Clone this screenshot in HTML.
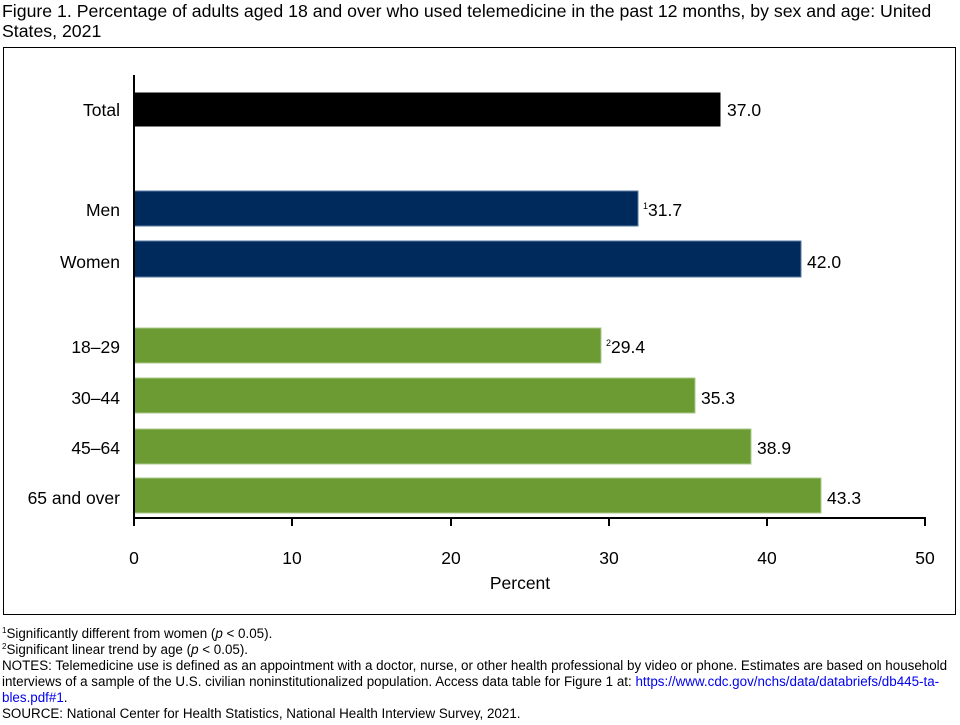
<!DOCTYPE html>
<html><head><meta charset="utf-8"><style>
body{margin:0;background:#fff;width:960px;height:720px;overflow:hidden;font-family:"Liberation Sans",Arial,sans-serif;}
</style></head><body>
<svg width="960" height="720" xmlns="http://www.w3.org/2000/svg" font-family="Liberation Sans, Arial, sans-serif">
<text x="2" y="17" font-size="17.7" fill="#000">Figure 1. Percentage of adults aged 18 and over who used telemedicine in the past 12 months, by sex and age: United</text>
<text x="2" y="37" font-size="17.7" fill="#000">States, 2021</text>
<rect x="3.5" y="47.5" width="952" height="567" fill="none" stroke="#000" stroke-width="1"/>
<g stroke="#fff" stroke-width="1">
<rect x="134" y="92" width="587" height="35" fill="#000"/>
<rect x="134" y="191" width="504" height="35" fill="#002a5c" stroke="#5a7aa0"/>
<rect x="134" y="241" width="667" height="36" fill="#002a5c" stroke="#5a7aa0"/>
<rect x="134" y="328" width="467" height="35" fill="#6b9b32" stroke="#a9c98a"/>
<rect x="134" y="378" width="561" height="35" fill="#6b9b32" stroke="#a9c98a"/>
<rect x="134" y="429" width="617" height="35" fill="#6b9b32" stroke="#a9c98a"/>
<rect x="134" y="478" width="687" height="35" fill="#6b9b32" stroke="#a9c98a"/>
</g>
<g stroke="#000" stroke-width="2">
<line x1="134" y1="75" x2="134" y2="526"/>
<line x1="133" y1="518" x2="926" y2="518"/>
<line x1="292" y1="518" x2="292" y2="526"/>
<line x1="451" y1="518" x2="451" y2="526"/>
<line x1="609" y1="518" x2="609" y2="526"/>
<line x1="767" y1="518" x2="767" y2="526"/>
<line x1="925" y1="518" x2="925" y2="526"/>
</g>
<g font-size="17.5" fill="#000" text-anchor="end">
<text x="120" y="116">Total</text>
<text x="120" y="216">Men</text>
<text x="120" y="268">Women</text>
<text x="120" y="353">18–29</text>
<text x="120" y="404">30–44</text>
<text x="120" y="454">45–64</text>
<text x="120" y="504">65 and over</text>
</g>
<g font-size="17.5" fill="#000">
<text x="727" y="116">37.0</text>
<text x="643" y="216"><tspan font-size="9" dy="-7">1</tspan><tspan dy="7">31.7</tspan></text>
<text x="807" y="268">42.0</text>
<text x="606" y="353"><tspan font-size="9" dy="-7">2</tspan><tspan dy="7">29.4</tspan></text>
<text x="701" y="404">35.3</text>
<text x="757" y="454">38.9</text>
<text x="827" y="504">43.3</text>
</g>
<g font-size="17.5" fill="#000" text-anchor="middle">
<text x="134" y="564">0</text>
<text x="292" y="564">10</text>
<text x="451" y="564">20</text>
<text x="609" y="564">30</text>
<text x="767" y="564">40</text>
<text x="925" y="564">50</text>
<text x="520" y="589">Percent</text>
</g>
<g font-size="13.4" fill="#000">
<text x="2" y="638"><tspan font-size="8" dy="-5">1</tspan><tspan dy="5">Significantly different from women (</tspan><tspan font-style="italic">p</tspan> &lt; 0.05).</text>
<text x="2" y="654"><tspan font-size="8" dy="-5">2</tspan><tspan dy="5">Significant linear trend by age (</tspan><tspan font-style="italic">p</tspan> &lt; 0.05).</text>
<text x="2" y="670">NOTES: Telemedicine use is defined as an appointment with a doctor, nurse, or other health professional by video or phone. Estimates are based on household</text>
<text x="2" y="686">interviews of a sample of the U.S. civilian noninstitutionalized population. Access data table for Figure 1 at: <tspan fill="#0000ee">https://www.cdc.gov/nchs/data/databriefs/db445-ta-</tspan></text>
<text x="2" y="702"><tspan fill="#0000ee">bles.pdf#1</tspan>.</text>
<text x="2" y="718">SOURCE: National Center for Health Statistics, National Health Interview Survey, 2021.</text>
</g>
</svg>
</body></html>
